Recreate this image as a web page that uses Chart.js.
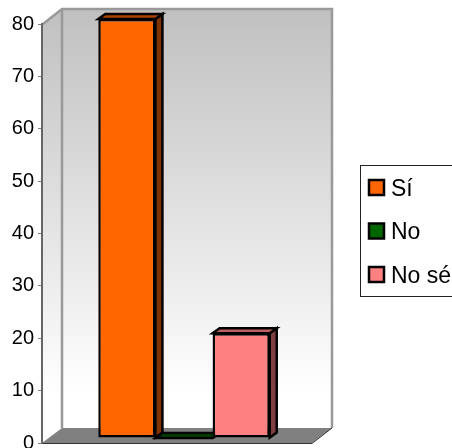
<!DOCTYPE html>
<html><head><meta charset="utf-8">
<style>html,body{margin:0;padding:0;background:#fff}#w{width:452px;height:448px;position:relative}</style>
<script src="https://cdn.jsdelivr.net/npm/chart.js@4"></script></head>
<body><div id="w"><canvas id="c" width="452" height="448"></canvas></div>
<script>
const categories = [''];
const seriesNames = ['Sí', 'No', 'No sé'];
const siValues = [80];
const noValues = [0];
const noSeValues = [20];
const yTicks = [0, 10, 20, 30, 40, 50, 60, 70, 80];
const frontColors = ['#FF6600', '#006600', '#FF8080'];
const topColors = ['#A84300', '#004200', '#BF6060'];
const sideColors = ['#803300', '#003300', '#804040'];

const WALL_DX = 20, WALL_DY = 15, BAR_DX = 7, BAR_DY = 5, DEPTH_X = 7, DEPTH_Y = 5;

function poly(ctx, pts, fill, stroke, lw) {
  ctx.beginPath();
  pts.forEach((p, i) => i ? ctx.lineTo(p[0], p[1]) : ctx.moveTo(p[0], p[1]));
  ctx.closePath();
  if (fill) { ctx.fillStyle = fill; ctx.fill(); }
  if (stroke) { ctx.strokeStyle = stroke; ctx.lineWidth = lw; ctx.lineJoin = 'miter'; ctx.stroke(); }
}

const box3d = {
  id: 'box3d',
  beforeDraw(chart) {
    const { ctx, chartArea: a } = chart;
    const L = a.left, R = a.right, T = a.top, B = a.bottom;
    const g = ctx.createLinearGradient(0, T - WALL_DY, 0, B - 48);
    g.addColorStop(0, '#C0C0C0');
    g.addColorStop(1, '#FFFFFF');
    ctx.save();
    poly(ctx, [[L, T], [L + WALL_DX, T - WALL_DY], [L + WALL_DX, B - WALL_DY], [L, B]], g);
    poly(ctx, [[L + WALL_DX, T - WALL_DY], [R + WALL_DX, T - WALL_DY], [R + WALL_DX, B - WALL_DY], [L + WALL_DX, B - WALL_DY]], g);
    poly(ctx, [[L, B], [L + WALL_DX, B - WALL_DY], [R + WALL_DX, B - WALL_DY], [R, B]], '#808080');
    ctx.strokeStyle = '#999999';
    ctx.lineWidth = 2.5;
    ctx.beginPath();
    ctx.moveTo(L + 1, T);
    ctx.lineTo(L + WALL_DX, T - WALL_DY);
    ctx.lineTo(R + WALL_DX, T - WALL_DY);
    ctx.lineTo(R + WALL_DX, B - WALL_DY);
    ctx.moveTo(L + WALL_DX, T - WALL_DY);
    ctx.lineTo(L + WALL_DX, B - WALL_DY);
    ctx.stroke();
    ctx.strokeStyle = '#333333';
    ctx.lineWidth = 1;
    ctx.beginPath();
    ctx.moveTo(L, B + 0.5);
    ctx.lineTo(R, B + 0.5);
    ctx.lineTo(R + WALL_DX, B - WALL_DY);
    ctx.stroke();
    ctx.restore();
    const lg = chart.legend;
    lg.left = 359; lg.right = 480; lg.width = 121;
    lg.top = 157.5; lg.bottom = 420; lg.height = 262.5;
    ctx.save();
    ctx.strokeStyle = '#222222';
    ctx.lineWidth = 1;
    ctx.strokeRect(360.5, 165.5, 120, 131);
    ctx.restore();
  },
  beforeDatasetsDraw(chart) {
    const ctx = chart.ctx;
    ctx.save();
    ctx.translate(BAR_DX, -BAR_DY);
    for (let i = chart.data.datasets.length - 1; i >= 0; i--) {
      const b = chart.getDatasetMeta(i).data[0];
      const x0 = b.x - b.width / 2, x1 = b.x + b.width / 2, y0 = b.y, y1 = b.base;
      poly(ctx, [[x1, y0], [x1 + DEPTH_X, y0 - DEPTH_Y], [x1 + DEPTH_X, y1 - DEPTH_Y], [x1, y1]], sideColors[i], '#000', 2.5);
      poly(ctx, [[x0, y0], [x0 + DEPTH_X, y0 - DEPTH_Y], [x1 + DEPTH_X, y0 - DEPTH_Y], [x1, y0]], topColors[i], '#000', 2.5);
    }
  },
  afterDatasetsDraw(chart) {
    chart.ctx.restore();
  },
  afterDraw(chart) {
    const ctx = chart.ctx;
    ctx.save();
    seriesNames.forEach((n, i) => {
      const y = 180 + 43.5 * i;
      ctx.fillStyle = frontColors[i];
      ctx.fillRect(369, y, 15, 15);
      ctx.strokeStyle = '#000';
      ctx.lineWidth = 2.5;
      ctx.strokeRect(369, y, 15, 15);
    });
    ctx.restore();
  }
};

new Chart(document.getElementById('c'), {
  type: 'bar',
  data: {
    labels: categories,
    datasets: [
      { label: seriesNames[0], data: siValues, backgroundColor: frontColors[0] },
      { label: seriesNames[1], data: noValues, backgroundColor: frontColors[1] },
      { label: seriesNames[2], data: noSeValues, backgroundColor: frontColors[2] }
    ].map(d => Object.assign(d, { borderColor: '#000', borderWidth: 2.5, borderSkipped: false, clip: false,
      categoryPercentage: 0.635, barPercentage: 1 }))
  },
  plugins: [box3d],
  options: {
    responsive: false,
    animation: false,
    layout: { padding: { left: 0, right: 140, top: 24, bottom: 5 } },
    scales: {
      x: { display: false },
      y: {
        min: 0, max: 80,
        afterBuildTicks(s) { s.ticks = yTicks.map(v => ({ value: v })); },
        afterFit(s) { s.width = 42; s.paddingTop = 0; s.paddingBottom = 0; },
        grid: { drawOnChartArea: false, drawTicks: true, tickLength: 4, color: '#808080' },
        border: { color: '#666666', width: 2 },
        ticks: { color: '#000', padding: 4, font: { family: '"Liberation Sans"', size: 20 } }
      }
    },
    plugins: {
      title: { display: false },
      tooltip: { enabled: false },
      legend: {
        position: 'chartArea',
        align: 'start',
        labels: {
          color: '#000',
          boxWidth: 0, boxHeight: 15,
          padding: 20.5,
          font: { family: '"Liberation Sans"', size: 23 },
          generateLabels(chart) {
            return chart.data.datasets.map((d, i) => ({
              text: d.label, fillStyle: 'rgba(0,0,0,0)', strokeStyle: 'rgba(0,0,0,0)', lineWidth: 0, datasetIndex: i
            }));
          }
        }
      }
    }
  }
});
</script></body></html>
